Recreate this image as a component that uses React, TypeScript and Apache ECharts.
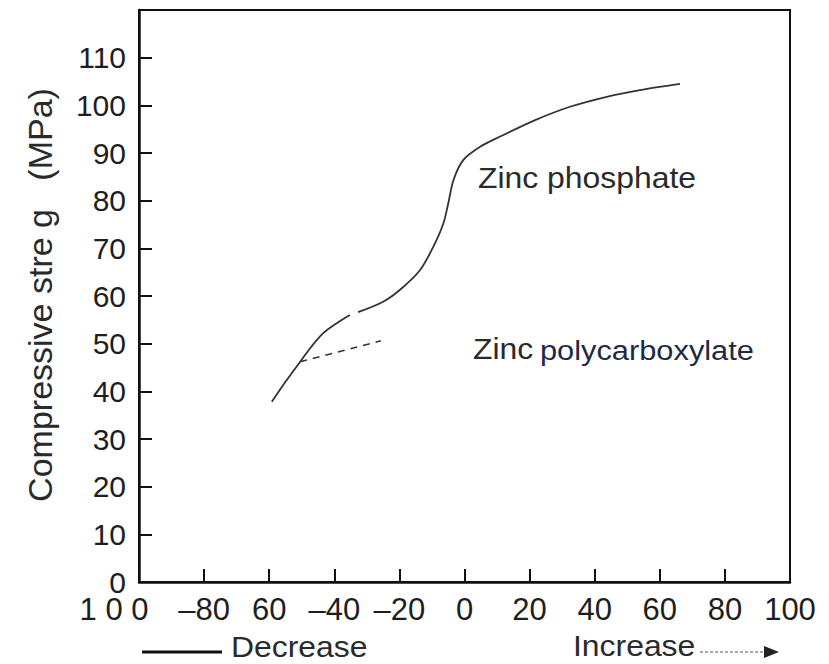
import React, { useEffect, useRef } from "react";
import * as echarts from "echarts";

// x values (arbitrary units, decrease ← 0 → increase) and compressive strength (MPa)
const lowerSegmentX = [-59.2, -55, -50.5, -47, -43.4, -39, -35.2];
const lowerSegmentY = [37.8, 42.0, 46.2, 49.4, 52.2, 54.4, 56.0];

const phosphateX = [-32.7, -25, -19.8, -13.7, -9.6, -6.5, -5.0, -3.4, -0.4, 4.8, 10.8, 21.7, 32.4, 43.7, 53.9, 66.2];
const phosphateY = [56.6, 58.8, 61.3, 65.4, 70.3, 75.2, 79.4, 84.3, 88.5, 91.3, 93.4, 96.9, 99.7, 101.8, 103.2, 104.5];

const polycarboxylateX = [-50.5, -25.7];
const polycarboxylateY = [46.2, 50.6];

const xTickValues = [-100, -80, -60, -40, -20, 0, 20, 40, 60, 80, 100];
const xTickLabels = ["1 0 0", "–80", "60", "–40", "–20", "0", "20", "40", "60", "80", "100"];
const yTickHidden = [120];

const yAxisTitle = "Compressive stre g   (MPa)";
const phosphateLabel = "Zinc phosphate";
const polyLabelA = "Zinc";
const polyLabelB = "polycarboxylate";
const decreaseLabel = "Decrease";
const increaseLabel = "Increase";

const zip = (xs: number[], ys: number[]) => xs.map((x, i) => [x, ys[i]]);

export default function App() {
  const ref = useRef<HTMLDivElement>(null);
  useEffect(() => {
    if (!ref.current) return;
    const chart = echarts.init(ref.current, undefined, { renderer: "svg" });
    const font = "Liberation Sans, Arial, sans-serif";
    const ink = "#1e1e1e";
    const txt = "#2a2a2a";
    chart.setOption({
      animation: false,
      backgroundColor: "#ffffff",
      grid: { left: 139, right: 39, top: 10, bottom: 82, show: true, borderColor: "#111", borderWidth: 2 },
      xAxis: {
        type: "value",
        min: -100,
        max: 100,
        interval: 20,
        axisLine: { show: true, onZero: false, lineStyle: { color: "#111", width: 2.5 } },
        axisTick: { show: true, inside: true, length: 13, lineStyle: { color: "#111", width: 2 } },
        splitLine: { show: false },
        axisLabel: {
          margin: 12,
          showMinLabel: true,
          showMaxLabel: true,
          hideOverlap: false,
          color: ink,
          fontFamily: font,
          fontSize: 31,
          formatter: (v: number) => {
            const i = xTickValues.indexOf(Math.round(v));
            if (i === 0) return "{l|" + xTickLabels[0] + "}";
            return i >= 0 ? xTickLabels[i] : "";
          },
          rich: { l: { fontSize: 31, fontFamily: font, color: ink, padding: [0, 50, 0, 0] } },
        },
      },
      yAxis: {
        type: "value",
        min: 0,
        max: 120,
        interval: 10,
        axisLine: { show: true, onZero: false, lineStyle: { color: "#111", width: 2.5 } },
        axisTick: { show: true, inside: true, length: 13, lineStyle: { color: "#111", width: 2 } },
        splitLine: { show: false },
        axisLabel: {
          margin: 13,
          showMinLabel: true,
          color: ink,
          fontFamily: font,
          fontSize: 30,
          formatter: (v: number) => (yTickHidden.includes(v) ? "" : String(v)),
        },
      },
      series: [
        {
          type: "line",
          data: zip(lowerSegmentX, lowerSegmentY),
          smooth: 0.3,
          showSymbol: false,
          lineStyle: { color: "#333", width: 1.8 },
        },
        {
          type: "line",
          data: zip(phosphateX, phosphateY),
          smooth: 0.3,
          showSymbol: false,
          lineStyle: { color: "#333", width: 1.8 },
        },
        {
          type: "line",
          data: zip(polycarboxylateX, polycarboxylateY),
          showSymbol: false,
          lineStyle: { color: "#333", width: 1.5, type: [7, 6] },
        },
      ],
      graphic: [
        {
          type: "text",
          x: 40,
          y: 295,
          rotation: Math.PI / 2,
          style: { text: yAxisTitle, font: `34px ${font}`, fill: txt, align: "center", verticalAlign: "middle" },
        },
        {
          type: "text",
          x: 478,
          y: 178,
          scaleX: 1.1,
          style: { text: phosphateLabel, font: `29px ${font}`, fill: txt, align: "left", verticalAlign: "middle" },
        },
        {
          type: "text",
          x: 473,
          y: 349,
          scaleX: 1.1,
          style: { text: polyLabelA, font: `29px ${font}`, fill: txt, align: "left", verticalAlign: "middle" },
        },
        {
          type: "text",
          x: 540,
          y: 350,
          scaleX: 1.1,
          style: { text: polyLabelB, font: `28px ${font}`, fill: "#1f2a44", align: "left", verticalAlign: "middle" },
        },
        {
          type: "line",
          shape: { x1: 142, y1: 652, x2: 222, y2: 652 },
          style: { stroke: "#111", lineWidth: 3 },
        },
        {
          type: "text",
          x: 231,
          y: 647,
          scaleX: 1.1,
          style: { text: decreaseLabel, font: `29px ${font}`, fill: txt, align: "left", verticalAlign: "middle" },
        },
        {
          type: "text",
          x: 573,
          y: 646,
          scaleX: 1.1,
          style: { text: increaseLabel, font: `29px ${font}`, fill: txt, align: "left", verticalAlign: "middle" },
        },
        {
          type: "line",
          shape: { x1: 700, y1: 652, x2: 770, y2: 652 },
          style: { stroke: "#555", lineWidth: 1.2, lineDash: [3, 2] },
        },
        {
          type: "polygon",
          shape: { points: [[764, 646], [779, 652], [764, 658]] },
          style: { fill: "#222" },
        },
      ],
    });
    return () => chart.dispose();
  }, []);
  return (
    <div style={{ position: "fixed", left: 0, top: 0, width: 829, height: 664 }}>
      <div ref={ref} style={{ width: 829, height: 664 }} />
    </div>
  );
}
